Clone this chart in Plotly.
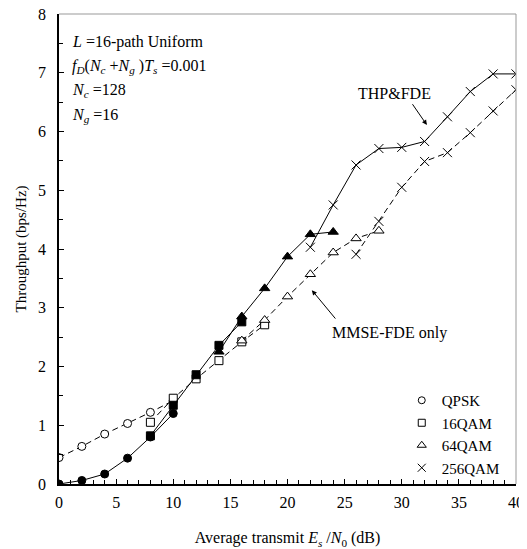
import plotly.graph_objects as go

# ---- data ----
snr_qpsk = [0, 2, 4, 6, 8, 10]
thp_qpsk = [0.0, 0.06, 0.17, 0.44, 0.80, 1.20]
mmse_qpsk = [0.45, 0.64, 0.85, 1.03, 1.22, 1.42]

snr_16_thp = [8, 10, 12, 14, 16]
thp_16 = [0.82, 1.34, 1.86, 2.36, 2.76]
snr_16_mmse = [8, 10, 12, 14, 16, 18]
mmse_16 = [1.05, 1.46, 1.79, 2.10, 2.42, 2.71]

snr_64_thp = [14, 16, 18, 20, 22, 24]
thp_64 = [2.25, 2.85, 3.33, 3.87, 4.25, 4.29]
snr_64_mmse = [16, 18, 20, 22, 24, 26, 28]
mmse_64 = [2.44, 2.79, 3.19, 3.57, 3.94, 4.18, 4.31]

snr_256_thp = [22, 24, 26, 28, 30, 32, 34, 36, 38, 40]
thp_256 = [4.03, 4.75, 5.43, 5.71, 5.73, 5.83, 6.25, 6.68, 6.98, 6.98]
snr_256_mmse = [26, 28, 30, 32, 34, 36, 38, 40]
mmse_256 = [3.91, 4.47, 5.05, 5.49, 5.64, 5.98, 6.35, 6.71]

mod_names = ["QPSK", "16QAM", "64QAM", "256QAM"]

FONT = "Liberation Serif"
BLACK = "black"

fig = go.Figure()

symbols = ["circle", "square", "triangle-up", "x-thin-open"]
sizes = [8, 8, 9, 9]

thp_sets = [(snr_qpsk, thp_qpsk), (snr_16_thp, thp_16), (snr_64_thp, thp_64), (snr_256_thp, thp_256)]
mmse_sets = [(snr_qpsk, mmse_qpsk), (snr_16_mmse, mmse_16), (snr_64_mmse, mmse_64), (snr_256_mmse, mmse_256)]

for i, (x, y) in enumerate(mmse_sets):
    fig.add_trace(go.Scatter(
        x=x, y=y, mode="lines+markers", showlegend=False,
        line=dict(color=BLACK, width=1, dash="6px,4px"),
        marker=dict(symbol=symbols[i], size=sizes[i], color="white" if i < 3 else BLACK,
                    line=dict(color=BLACK, width=1)),
    ))
for i, (x, y) in enumerate(thp_sets):
    fig.add_trace(go.Scatter(
        x=x, y=y, mode="lines+markers", showlegend=False,
        line=dict(color=BLACK, width=1),
        marker=dict(symbol=symbols[i], size=sizes[i], color=BLACK,
                    line=dict(color=BLACK, width=1)),
    ))
# legend entries (marker only)
for i, name in enumerate(mod_names):
    fig.add_trace(go.Scatter(
        x=[None], y=[None], mode="markers", name=name,
        marker=dict(symbol=symbols[i], size=sizes[i] - 1, color="white" if i < 3 else BLACK,
                    line=dict(color=BLACK, width=1)),
    ))

ann_font = dict(family=FONT, size=16, color=BLACK)
info_lines = [
    "<i>L</i> =16-path Uniform",
    "<i>f</i><sub><i>D</i></sub>(<i>N</i><sub><i>c</i></sub> +<i>N</i><sub><i>g</i></sub> )<i>T</i><sub><i>s</i></sub> =0.001",
    "<i>N</i><sub><i>c</i></sub> =128",
    "<i>N</i><sub><i>g</i></sub> =16",
]
info_y = [7.52, 7.11, 6.70, 6.27]
annotations = []
for t, yy in zip(info_lines, info_y):
    annotations.append(dict(x=1.0, y=yy, xref="x", yref="y", text=t, showarrow=False,
                            xanchor="left", yanchor="middle", font=ann_font))
annotations.append(dict(x=29.35, y=6.65, xref="x", yref="y", text="THP&FDE", showarrow=False,
                        font=ann_font))
annotations.append(dict(x=28.95, y=2.57, xref="x", yref="y", text="MMSE-FDE only", showarrow=False,
                        font=ann_font))
annotations.append(dict(x=32.2, y=6.11, ax=30.85, ay=6.49, xref="x", yref="y", axref="x", ayref="y",
                        text="", showarrow=True, arrowhead=2, arrowsize=1, arrowwidth=1, arrowcolor=BLACK))
annotations.append(dict(x=22.13, y=3.30, ax=24.3, ay=2.79, xref="x", yref="y", axref="x", ayref="y",
                        text="", showarrow=True, arrowhead=2, arrowsize=1, arrowwidth=1, arrowcolor=BLACK))

fig.update_layout(
    width=519, height=541,
    margin=dict(l=51, r=11, t=6, b=65),
    paper_bgcolor="white", plot_bgcolor="white",
    font=dict(family=FONT, size=15, color=BLACK),
    showlegend=True,
    legend=dict(x=0.75, y=0.0, xanchor="left", yanchor="bottom",
                bgcolor="rgba(0,0,0,0)", font=dict(family=FONT, size=15, color=BLACK),
                itemwidth=30, tracegroupgap=0),
    annotations=annotations,
    shapes=[
        dict(type="line", xref="paper", yref="paper", x0=0, x1=1, y0=1, y1=1,
             line=dict(color="#999999", width=1)),
        dict(type="line", xref="paper", yref="paper", x0=1, x1=1, y0=0, y1=1,
             line=dict(color="#999999", width=1)),
    ],
)
fig.update_xaxes(
    range=[0, 40], tickvals=[0, 5, 10, 15, 20, 25, 30, 35, 40],
    ticks="inside", ticklen=5, tickcolor=BLACK, tickwidth=1,
    minor=dict(dtick=1, ticks="inside", ticklen=4, tickcolor=BLACK, tickwidth=1),
    showline=True, linecolor=BLACK, linewidth=1.5, showgrid=False, zeroline=False,
    tickfont=dict(family=FONT, size=16, color=BLACK), ticklabelstandoff=3,
    ticklabeloverflow="allow", automargin=False,
    title=dict(text="Average transmit <i>E</i><sub><i>s</i></sub> /<i>N</i><sub>0</sub> (dB)",
               font=dict(family=FONT, size=16, color=BLACK), standoff=22),
)
fig.update_yaxes(
    range=[0, 8], tickvals=list(range(0, 9)),
    ticks="inside", ticklen=5, tickcolor=BLACK, tickwidth=1,
    minor=dict(dtick=0.5, ticks="inside", ticklen=4, tickcolor=BLACK, tickwidth=1),
    showline=True, linecolor=BLACK, linewidth=1.5, showgrid=False, zeroline=False,
    tickfont=dict(family=FONT, size=16, color=BLACK), ticklabelstandoff=8,
    ticklabeloverflow="allow", automargin=False,
    title=dict(text="Throughput (bps/Hz)", font=dict(family=FONT, size=15, color=BLACK), standoff=8),
)

fig.write_html("out.html")
